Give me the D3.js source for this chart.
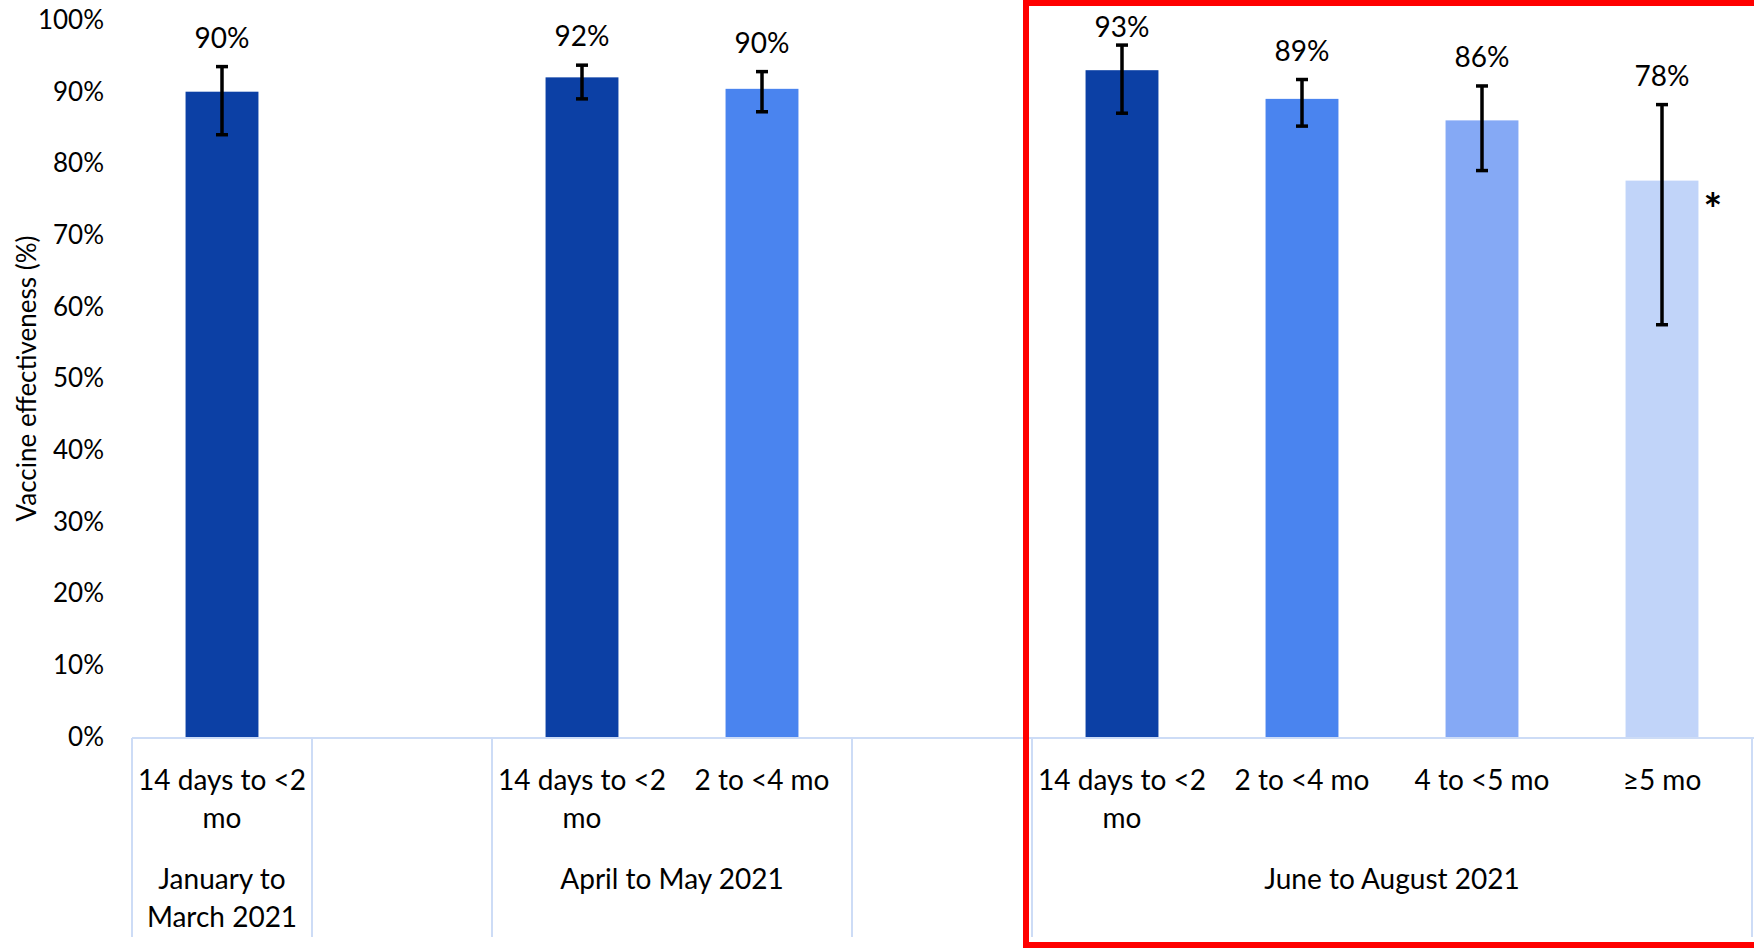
<!DOCTYPE html>
<html>
<head>
<meta charset="utf-8">
<script src="https://cdn.jsdelivr.net/npm/d3@7"></script>
<style>
    html, body { margin: 0; padding: 0; background: #fff; }
    svg { display: block; font-family: Lato, "Open Sans", sans-serif; }
</style>
</head>
<body>
<svg id="chart"></svg>
<script>
// periods (second level of the category axis)
const periods = ["January to March 2021", "April to May 2021", "June to August 2021"];
// time since vaccination (first level of the category axis)
const intervals = ["14 days to <2 mo", "2 to <4 mo", "4 to <5 mo", "≥5 mo"];

// one entry per bar
const barPeriod   = [0, 1, 1, 2, 2, 2, 2];
const barInterval = [0, 0, 1, 0, 1, 2, 3];
const veValues    = [90, 92, 90.4, 93, 89, 86, 77.6];
const ciLow       = [84, 89, 87.2, 87, 85.2, 79, 57.5];
const ciHigh      = [93.5, 93.7, 92.8, 96.5, 91.7, 90.8, 88.2];
const marks       = ["", "", "", "", "", "", "*"];

const yTicks = [0, 10, 20, 30, 40, 50, 60, 70, 80, 90, 100];
const intervalColors = ["#0C40A5", "#4A84EF", "#85A9F5", "#C1D4F9"];

class VeBarChart {

    constructor(config) {
        this.config = config;
        this.init();
    }

    init() {
        let self = this;

        self.svg = d3.select(self.config.parent)
            .attr("width", self.config.width)
            .attr("height", self.config.height);

        // build the category slots, one empty slot between periods
        self.slots = [];
        self.bars = [];
        periods.forEach((p, pi) => {
            if (pi > 0) self.slots.push("gap" + pi);
            barPeriod.forEach((bp, i) => {
                if (bp !== pi) return;
                let key = "bar" + i;
                self.slots.push(key);
                self.bars.push({
                    key: key,
                    period: bp,
                    interval: barInterval[i],
                    value: veValues[i],
                    low: ciLow[i],
                    high: ciHigh[i],
                    mark: marks[i]
                });
            });
        });

        let m = self.config.margin;
        self.xScale = d3.scaleBand()
            .domain(self.slots)
            .range([m.left, self.config.width - m.right])
            .paddingInner(0.595)
            .paddingOuter(0.2975);

        self.yScale = d3.scaleLinear()
            .domain([0, 100])
            .range([self.config.height - m.bottom, m.top]);

        self.render();
    }

    render() {
        let self = this;
        let x = self.xScale, y = self.yScale;
        let step = x.step();
        let slotStart = k => x(k) + x.bandwidth() / 2 - step / 2;
        let base = y(0);

        // y axis labels
        let axisY = self.svg.append("g")
            .attr("transform", `translate(${self.config.margin.left},0)`)
            .call(d3.axisLeft(y).tickValues(yTicks).tickSize(0).tickPadding(28).tickFormat(d => d + "%"));
        axisY.select(".domain").remove();
        axisY.selectAll("text")
            .attr("font-family", "Lato, sans-serif")
            .attr("font-size", "26px")
            .attr("fill", "#000");

        // y title
        self.svg.append("text")
            .attr("transform", `translate(36, ${(y(0) + y(100)) / 2}) rotate(-90)`)
            .attr("text-anchor", "middle")
            .attr("font-size", "26px")
            .attr("fill", "#000")
            .text("Vaccine effectiveness (%)");

        // category axis: base line and period separators
        let gridColor = "#CDDCF6";
        self.svg.append("line")
            .attr("x1", self.config.margin.left).attr("x2", self.config.width)
            .attr("y1", base + 1).attr("y2", base + 1)
            .attr("stroke", gridColor).attr("stroke-width", 2);

        let edges = [];
        let groups = periods.map((p, pi) => {
            let keys = self.bars.filter(b => b.period === pi).map(b => b.key);
            let x0 = slotStart(keys[0]);
            let x1 = slotStart(keys[keys.length - 1]) + step;
            edges.push(x0, x1);
            return {label: p, x0: x0, x1: x1};
        });
        self.svg.append("g")
            .selectAll("line").data(edges)
            .enter()
            .append("line")
            .attr("x1", d => d).attr("x2", d => d)
            .attr("y1", base + 1).attr("y2", base + 200)
            .attr("stroke", gridColor).attr("stroke-width", 2);

        // bars
        self.svg.append("g")
            .selectAll("rect").data(self.bars)
            .enter()
            .append("rect")
            .attr("x", d => x(d.key))
            .attr("y", d => y(d.value))
            .attr("width", x.bandwidth())
            .attr("height", d => base - y(d.value))
            .attr("fill", d => intervalColors[d.interval]);

        // error bars
        let err = self.svg.append("g")
            .selectAll("g").data(self.bars)
            .enter()
            .append("g")
            .attr("stroke", "#000")
            .attr("stroke-width", 3.5);
        let cx = d => x(d.key) + x.bandwidth() / 2;
        err.append("line")
            .attr("x1", cx).attr("x2", cx)
            .attr("y1", d => y(d.low)).attr("y2", d => y(d.high));
        err.append("line")
            .attr("x1", d => cx(d) - 6).attr("x2", d => cx(d) + 6)
            .attr("y1", d => y(d.low)).attr("y2", d => y(d.low));
        err.append("line")
            .attr("x1", d => cx(d) - 6).attr("x2", d => cx(d) + 6)
            .attr("y1", d => y(d.high)).attr("y2", d => y(d.high));

        // value labels, kept clear of the top edge
        self.svg.append("g")
            .selectAll("text").data(self.bars)
            .enter()
            .append("text")
            .attr("x", cx)
            .attr("y", d => Math.max(y(d.high) - 19, 37))
            .attr("text-anchor", "middle")
            .attr("font-size", "28px")
            .attr("fill", "#000")
            .text(d => Math.round(d.value) + "%");

        // footnote marks
        self.svg.append("g")
            .selectAll("text").data(self.bars.filter(d => d.mark))
            .enter()
            .append("text")
            .attr("x", d => x(d.key) + x.bandwidth() + 5)
            .attr("y", d => y(d.value) + 44)
            .attr("font-size", "44px")
            .attr("font-weight", "bold")
            .attr("fill", "#000")
            .text(d => d.mark);

        // interval labels
        let lvl1 = self.svg.append("g")
            .selectAll("text").data(self.bars)
            .enter()
            .append("text")
            .attr("x", cx)
            .attr("y", base + 53)
            .attr("text-anchor", "middle")
            .attr("font-size", "28px")
            .attr("fill", "#000")
            .text(d => intervals[d.interval]);
        lvl1.each(function () { self.wrap(d3.select(this), step - 2, 38); });

        // period labels
        let lvl2 = self.svg.append("g")
            .selectAll("text").data(groups)
            .enter()
            .append("text")
            .attr("x", d => (d.x0 + d.x1) / 2)
            .attr("y", base + 152)
            .attr("text-anchor", "middle")
            .attr("font-size", "28px")
            .attr("fill", "#000")
            .text(d => d.label);
        lvl2.each(function (d) { self.wrap(d3.select(this), d.x1 - d.x0 - 10, 38); });

        // highlight box round the latest period
        self.svg.append("rect")
            .attr("x", groups[2].x0 - 6)
            .attr("y", 3)
            .attr("width", self.config.width)
            .attr("height", self.config.height - 6)
            .attr("fill", "none")
            .attr("stroke", "#FF0000")
            .attr("stroke-width", 6);
    }

    // simple word wrap into tspans
    wrap(text, width, lineHeight) {
        let words = text.text().split(/\s+/);
        let xPos = text.attr("x");
        text.text(null);
        let line = [];
        let tspan = text.append("tspan").attr("x", xPos).attr("dy", 0);
        words.forEach(w => {
            line.push(w);
            tspan.text(line.join(" "));
            if (tspan.node().getComputedTextLength() > width && line.length > 1) {
                line.pop();
                tspan.text(line.join(" "));
                line = [w];
                tspan = text.append("tspan").attr("x", xPos).attr("dy", lineHeight).text(w);
            }
        });
    }
}

new VeBarChart({
    parent: "#chart",
    width: 1754,
    height: 948,
    margin: {top: 20, right: 2, bottom: 211, left: 132}
});
</script>
</body>
</html>
